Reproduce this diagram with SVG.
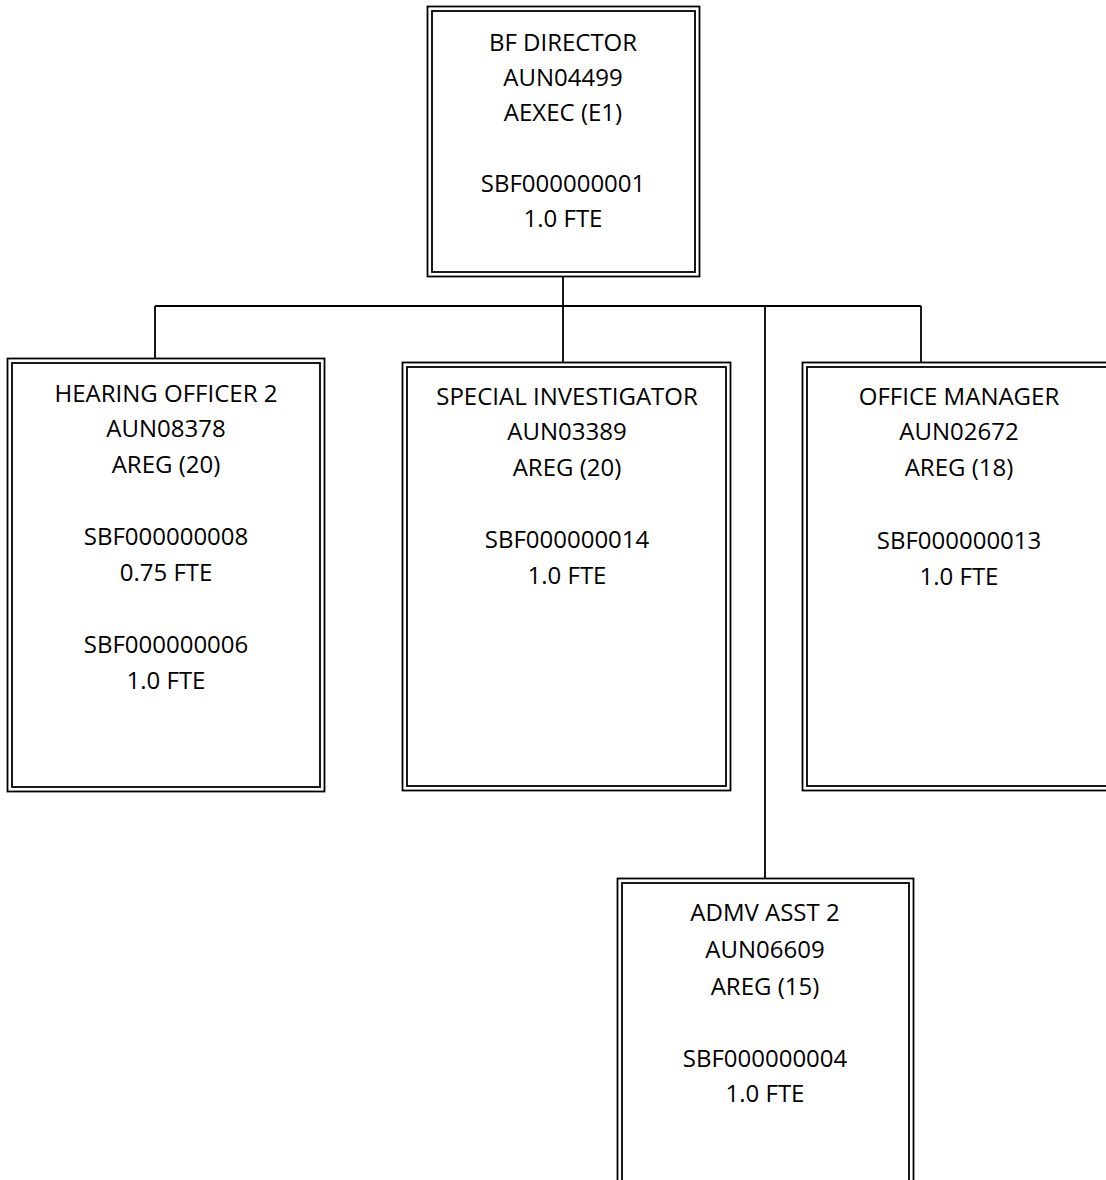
<svg xmlns="http://www.w3.org/2000/svg" width="1106" height="1180" viewBox="0 0 1106 1180">
<style>
.o{fill:none;stroke:#000;stroke-width:1.8}
.i{fill:none;stroke:#000;stroke-width:1.8}
.c{fill:none;stroke:#000;stroke-width:1.8}
text{font-family:"Open Sans","Liberation Sans",sans-serif;font-size:24px;fill:#000;text-anchor:middle}
</style>
<rect width="1106" height="1180" fill="#fff"/>
<g id="connectors">
<path class="c" d="M563 276V306M155 306H921M155 306V358M563 306V362M921 306V362M765 306V878"/>
</g>
<g id="n-director">
<rect class="o" x="427.5" y="6.5" width="272" height="270"/>
<rect class="i" x="432" y="11" width="263" height="261"/>
<text x="563" y="51">BF DIRECTOR</text>
<text x="563" y="86">AUN04499</text>
<text x="563" y="121">AEXEC (E1)</text>
<text x="563" y="192">SBF000000001</text>
<text x="563" y="227">1.0 FTE</text>
</g>
<g id="n-hearing">
<rect class="o" x="7.5" y="358.5" width="317" height="433"/>
<rect class="i" x="12" y="363" width="308" height="424"/>
<text x="166" y="402">HEARING OFFICER 2</text>
<text x="166" y="437">AUN08378</text>
<text x="166" y="473">AREG (20)</text>
<text x="166" y="545">SBF000000008</text>
<text x="166" y="581">0.75 FTE</text>
<text x="166" y="653">SBF000000006</text>
<text x="166" y="689">1.0 FTE</text>
</g>
<g id="n-special">
<rect class="o" x="402.5" y="362.5" width="328" height="428"/>
<rect class="i" x="407" y="367" width="319" height="419"/>
<text x="567" y="405">SPECIAL INVESTIGATOR</text>
<text x="567" y="440">AUN03389</text>
<text x="567" y="476">AREG (20)</text>
<text x="567" y="548">SBF000000014</text>
<text x="567" y="584">1.0 FTE</text>
</g>
<g id="n-office">
<rect class="o" x="802.5" y="362.5" width="320" height="428"/>
<rect class="i" x="807" y="367" width="311" height="419"/>
<text x="959" y="405">OFFICE MANAGER</text>
<text x="959" y="440">AUN02672</text>
<text x="959" y="476">AREG (18)</text>
<text x="959" y="549">SBF000000013</text>
<text x="959" y="585">1.0 FTE</text>
</g>
<g id="n-admv">
<rect class="o" x="617.5" y="878.5" width="296" height="320"/>
<rect class="i" x="622" y="883" width="287" height="311"/>
<text x="765" y="921">ADMV ASST 2</text>
<text x="765" y="958">AUN06609</text>
<text x="765" y="995">AREG (15)</text>
<text x="765" y="1067">SBF000000004</text>
<text x="765" y="1102">1.0 FTE</text>
</g>
</svg>
